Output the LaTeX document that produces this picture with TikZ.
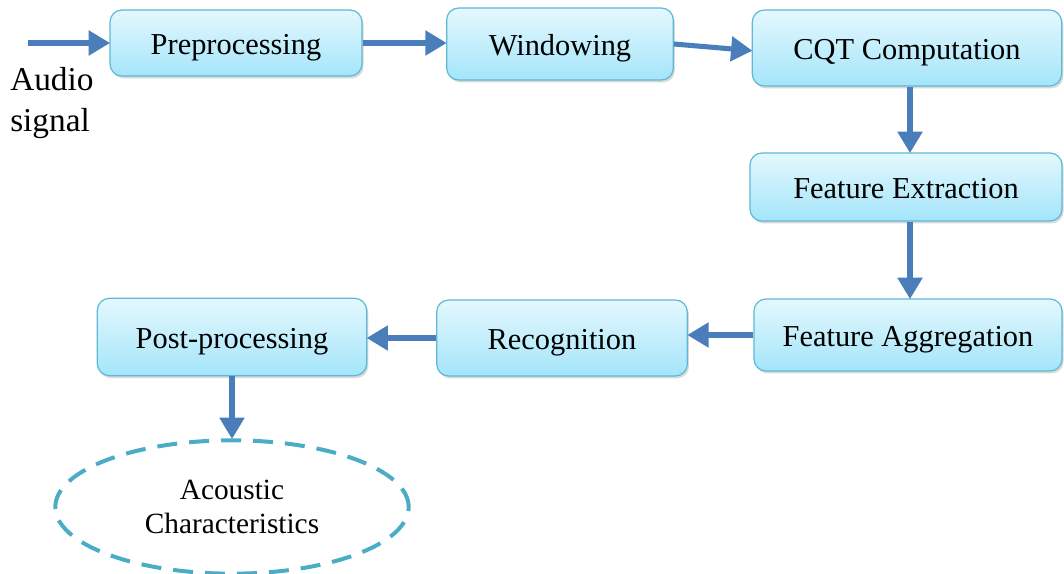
\documentclass[tikz,border=0pt]{standalone}
\usepackage{fontspec}
\setmainfont{Liberation Serif}
\usetikzlibrary{arrows.meta,shadows,shapes.geometric}
\definecolor{arrowblue}{RGB}{74,126,187}
\definecolor{boxborder}{RGB}{95,184,212}
\definecolor{boxtop}{RGB}{228,248,254}
\definecolor{boxbot}{RGB}{164,229,250}
\definecolor{ellcol}{RGB}{75,172,198}
\tikzset{
  stagebox/.style={draw=boxborder, line width=0.9pt, rounded corners=9pt,
    top color=boxtop, bottom color=boxbot,
    font=\fontsize{22.8}{27}\selectfont, text height=19pt, text depth=2pt,
    drop shadow={shadow xshift=1.2pt, shadow yshift=-1.8pt, opacity=0.25, fill=black!60}},
  flowarrow/.style={draw=arrowblue, line width=3.8pt,
    -{Triangle[length=16pt,width=18pt]}, shorten >=-0.5pt},
  resultell/.style={ellipse, draw=ellcol, line width=3pt,
    dash pattern=on 15pt off 9pt, align=center,
    font=\fontsize{22}{25}\selectfont, inner sep=0pt}
}
\begin{document}
\begin{tikzpicture}[x=0.75pt,y=-0.75pt]
\useasboundingbox (0,0) rectangle (1064,574);
\node[stagebox, minimum width=189pt, minimum height=49.5pt] (pre) at (236,43) {Preprocessing};
\node[stagebox, minimum width=170pt, minimum height=54pt] (win) at (560,44) {Windowing};
\node[stagebox, minimum width=232pt, minimum height=57pt] (cqt) at (907,48) {CQT Computation};
\node[stagebox, minimum width=234pt, minimum height=51pt] (fe) at (906,187) {Feature Extraction};
\node[stagebox, minimum width=231pt, minimum height=54pt] (fa) at (908,335) {Feature Aggregation};
\node[stagebox, minimum width=188pt, minimum height=57pt] (rec) at (562,338) {Recognition};
\node[stagebox, minimum width=202pt, minimum height=58pt] (post) at (232,337) {Post-processing};
\node[resultell, minimum width=265pt, minimum height=100pt] (ac) at (232,507) {Acoustic\\Characteristics};
\node[align=left, anchor=north west, inner sep=0pt, font=\fontsize{25}{31}\selectfont] (audio) at (10,67) {Audio\\signal};
\coordinate (start) at (28,43);
\draw[flowarrow] (start) -- (pre.west);
\draw[flowarrow] (pre.east) -- (pre.east -| win.west);
\draw[flowarrow] (win.east) -- ([yshift=-2pt]cqt.west);
\draw[flowarrow] (cqt.south -| 910,0) -- (fe.north -| 910,0);
\draw[flowarrow] (fe.south -| 910,0) -- (fa.north -| 910,0);
\draw[flowarrow] (fa.west) -- (fa.west -| rec.east);
\draw[flowarrow] (rec.west) -- (rec.west -| post.east);
\draw[flowarrow] (post.south) -- (ac.north);
\end{tikzpicture}
\end{document}
